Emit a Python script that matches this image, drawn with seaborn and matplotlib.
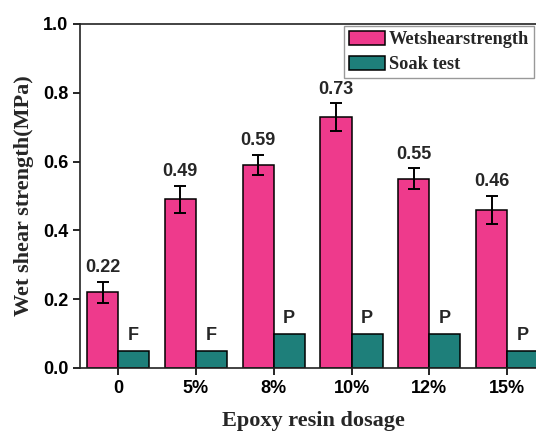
import matplotlib

matplotlib.use("Agg")
import matplotlib.pyplot as plt
import pandas as pd
import seaborn as sns

dosages = ["0", "5%", "8%", "10%", "12%", "15%"]
wet_strength = [0.22, 0.49, 0.59, 0.73, 0.55, 0.46]
wet_error = [0.03, 0.04, 0.03, 0.04, 0.03, 0.04]
soak_height = [0.05, 0.05, 0.10, 0.10, 0.10, 0.05]
soak_result = ["F", "F", "P", "P", "P", "P"]
series = ["Wetshearstrength", "Soak test"]

PINK = "#EE3A8C"
TEAL = "#1E7F7A"

sns.set_style("ticks")
plt.rcParams["font.family"] = ["Liberation Sans", "DejaVu Sans"]

data = pd.DataFrame({
    "dosage": dosages * 2,
    "value": wet_strength + soak_height,
    "series": [series[0]] * len(dosages) + [series[1]] * len(dosages),
})

fig = plt.figure(figsize=(5.36, 4.32), dpi=100)
# right edge of the axes falls outside the figure, as in the cropped original
ax = fig.add_axes([80 / 536, 64 / 432, 466 / 536, 344 / 432])

sns.barplot(
    data, x="dosage", y="value", hue="series", order=dosages,
    hue_order=series, palette=[PINK, TEAL], saturation=1,
    edgecolor="black", linewidth=1.1, width=0.8, errorbar=None, ax=ax,
)

wet_bars, soak_bars = ax.containers[0], ax.containers[1]
wet_x = [p.get_x() + p.get_width() / 2 for p in wet_bars]
ax.errorbar(
    wet_x, wet_strength, yerr=wet_error, fmt="none", ecolor="black",
    elinewidth=1.4, capsize=4, capthick=1.4,
)

for x, v, e in zip(wet_x, wet_strength, wet_error):
    ax.annotate(
        f"{v:.2f}", (x, v + e), xytext=(0, 4), textcoords="offset points",
        ha="center", va="bottom", fontsize=13, fontweight="bold",
    )
for p, h, r in zip(soak_bars, soak_height, soak_result):
    ax.annotate(
        r, (p.get_x() + p.get_width() / 2, h), xytext=(0, 5),
        textcoords="offset points", ha="center", va="bottom",
        fontsize=13, fontweight="bold",
    )

ax.set_xlim(-0.49, 5.5)
ax.set_ylim(0, 1.0)
ax.set_yticks([0.0, 0.2, 0.4, 0.6, 0.8, 1.0])
ax.set_yticklabels([f"{t:.1f}" for t in ax.get_yticks()])
ax.tick_params(axis="both", direction="out", length=5, width=1.2,
               labelsize=13, colors="black")
for lbl in ax.get_xticklabels() + ax.get_yticklabels():
    lbl.set_fontweight("bold")

for side in ("left", "bottom", "top", "right"):
    ax.spines[side].set_visible(True)
    ax.spines[side].set_linewidth(1.2)
    ax.spines[side].set_color("#222222")

serif = ["Liberation Serif", "DejaVu Serif"]
ax.set_xlabel("Epoxy resin dosage", family=serif, fontsize=16,
              fontweight="bold", labelpad=10)
ax.set_ylabel("Wet shear strength(MPa)", family=serif, fontsize=16,
              fontweight="bold", labelpad=6)

handles, labels = ax.get_legend_handles_labels()
ax.legend(
    handles, labels, loc="upper left", bbox_to_anchor=(0.567, 0.994),
    borderaxespad=0, fancybox=False, edgecolor="#999999", framealpha=1,
    prop={"family": serif, "weight": "bold", "size": 13.2},
    handlelength=2.0, handleheight=0.85, handletextpad=0.2,
    labelspacing=0.4, borderpad=0.25,
)

fig.savefig("out.png", dpi=100)
